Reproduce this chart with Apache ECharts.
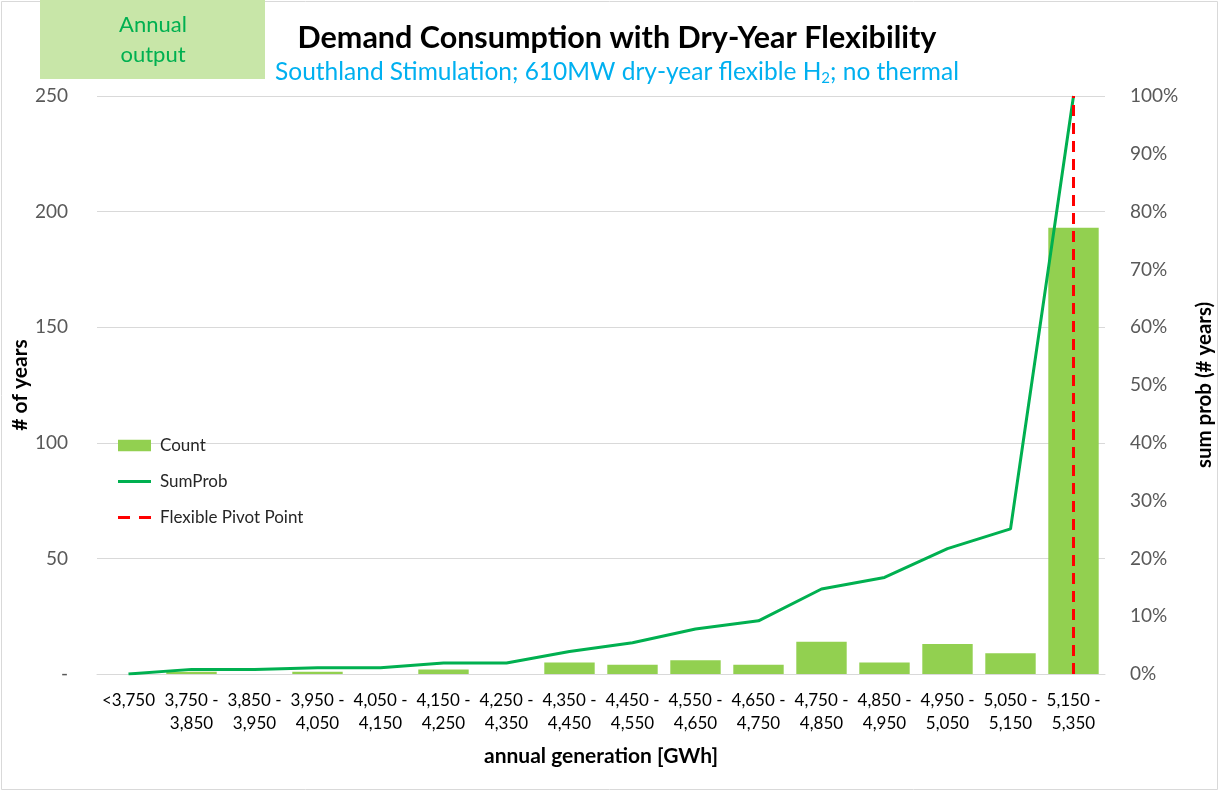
<!DOCTYPE html>
<html>
<head>
<meta charset="utf-8">
<script src="https://cdn.jsdelivr.net/npm/echarts@6/dist/echarts.min.js"></script>
<style>
    html, body { margin: 0; padding: 0; background: #fff; }
    #chart { width: 1221px; height: 793px; }
</style>
</head>
<body>
<div id="chart"></div>
<script>
    // annual generation bins
    var categories = ['<3,750', '3,750 -\n3,850', '3,850 -\n3,950', '3,950 -\n4,050', '4,050 -\n4,150',
        '4,150 -\n4,250', '4,250 -\n4,350', '4,350 -\n4,450', '4,450 -\n4,550', '4,550 -\n4,650',
        '4,650 -\n4,750', '4,750 -\n4,850', '4,850 -\n4,950', '4,950 -\n5,050', '5,050 -\n5,150',
        '5,150 -\n5,350'];
    var counts = [0, 1, 0, 1, 0, 2, 0, 5, 4, 6, 4, 14, 5, 13, 9, 193];
    var sumProb = [0, 0.008, 0.008, 0.011, 0.011, 0.019, 0.019, 0.039, 0.054, 0.078, 0.092, 0.147, 0.167, 0.217, 0.251, 1.0];
    var pivotCategory = '5,150 -\n5,350';

    var font = 'Lato';
    var chart = echarts.init(document.getElementById('chart'));
    chart.setOption({
        animation: false,
        textStyle: { fontFamily: font },
        graphic: [
            {
                type: 'rect',
                shape: { x: 1.5, y: 1.5, width: 1216, height: 788 },
                style: { fill: 'none', stroke: '#d9d9d9', lineWidth: 1 }
            },
            {
                type: 'rect',
                shape: { x: 40, y: 0, width: 225, height: 79 },
                style: { fill: '#c8e6a8' }
            },
            {
                type: 'text',
                x: 153, y: 40,
                style: {
                    text: 'Annual\noutput', fill: '#00b050', font: '22px ' + font,
                    align: 'center', verticalAlign: 'middle', lineHeight: 30
                }
            }
        ],
        title: {
            text: 'Demand Consumption with Dry-Year Flexibility',
            left: 612, top: 18, textAlign: 'center', itemGap: 4,
            textStyle: { fontSize: 30.5, fontWeight: 'bold', color: '#000', fontFamily: font },
            subtext: '{a|Southland Stimulation; 610MW dry-year flexible H}{s|2}{a|; no thermal}',
            subtextStyle: {
                rich: {
                    a: { fontSize: 24.5, lineHeight: 28, color: '#00b0f0', fontFamily: font },
                    s: { fontSize: 15, lineHeight: 15, color: '#00b0f0', fontFamily: font, verticalAlign: 'bottom' }
                }
            }
        },
        legend: {
            orient: 'vertical', left: 118, top: 437, itemGap: 19, padding: 0,
            itemWidth: 33, itemHeight: 14,
            textStyle: { fontSize: 17, color: '#262626', fontFamily: font, padding: [0, 0, 0, 4] },
            data: [
                { name: 'Count', icon: 'path://M0,0H32V11H0Z' },
                { name: 'SumProb', icon: 'path://M0,0H34V3H0Z' },
                { name: 'Flexible Pivot Point', icon: 'path://M0,0H12V3H0Z M21,0H33V3H21Z' }
            ]
        },
        grid: { left: 97, right: 116, top: 96, bottom: 119, outerBoundsMode: 'none' },
        xAxis: {
            type: 'category',
            data: categories,
            axisTick: { show: false },
            axisLine: { lineStyle: { color: '#d9d9d9', width: 1 } },
            axisLabel: { fontSize: 17, color: '#000', lineHeight: 23, margin: 15, interval: 0 },
            name: 'annual generation [GWh]',
            nameLocation: 'middle', nameGap: 72,
            nameTextStyle: { fontSize: 21, fontWeight: 'bold', color: '#000' }
        },
        yAxis: [
            {
                type: 'value', min: 0, max: 250, interval: 50,
                axisLine: { show: false }, axisTick: { show: false },
                splitLine: { lineStyle: { color: '#d9d9d9' } },
                axisLabel: {
                    fontSize: 19, color: '#595959', margin: 29,
                    formatter: function (v) { return v === 0 ? '-' : v; }
                },
                name: '# of years', nameLocation: 'middle', nameGap: 66, nameRotate: 90,
                nameMoveOverlap: false,
                nameTextStyle: { fontSize: 21, fontWeight: 'bold', color: '#000' }
            },
            {
                type: 'value', min: 0, max: 1, interval: 0.1,
                axisLine: { show: false }, axisTick: { show: false },
                splitLine: { show: false },
                axisLabel: {
                    fontSize: 19, color: '#595959', margin: 25,
                    formatter: function (v) { return Math.round(v * 100) + '%'; }
                },
                name: 'sum prob (# years)', nameLocation: 'middle', nameGap: 89, nameRotate: 90,
                nameMoveOverlap: false,
                nameTextStyle: { fontSize: 20.5, fontWeight: 'bold', color: '#000' }
            }
        ],
        series: [
            {
                name: 'Count', type: 'bar', data: counts,
                barCategoryGap: '20%',
                itemStyle: { color: '#92d050' }
            },
            {
                name: 'SumProb', type: 'line', data: sumProb, yAxisIndex: 1,
                symbol: 'none',
                lineStyle: { color: '#00b050', width: 3 },
                itemStyle: { color: '#00b050' }
            },
            {
                name: 'Flexible Pivot Point', type: 'line', data: [],
                symbol: 'none',
                lineStyle: { color: '#ff0000', width: 3, type: [11, 7] },
                itemStyle: { color: '#ff0000' },
                markLine: {
                    silent: true, symbol: 'none', label: { show: false },
                    lineStyle: { color: '#ff0000', width: 3, type: [11, 7] },
                    data: [{ xAxis: pivotCategory }]
                }
            }
        ]
    });
</script>
</body>
</html>
